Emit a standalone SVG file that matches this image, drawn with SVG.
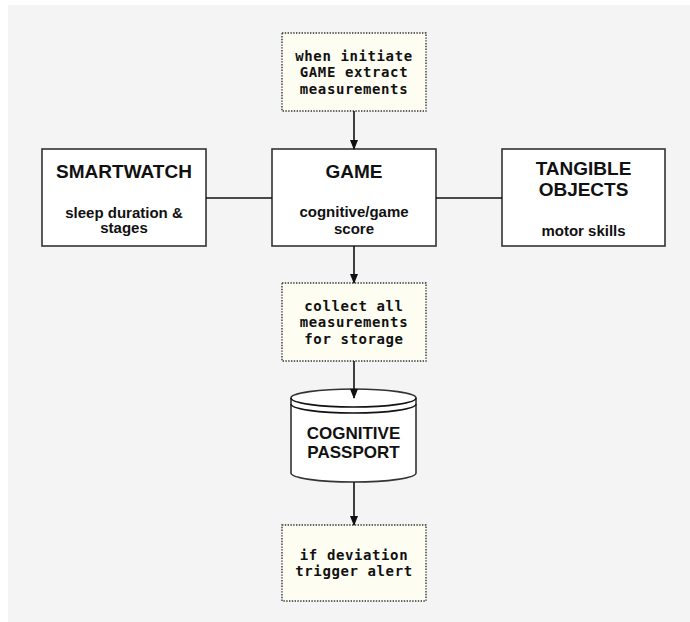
<svg xmlns="http://www.w3.org/2000/svg" width="690" height="622" viewBox="0 0 690 622">
<defs>
<marker id="ah" markerWidth="10" markerHeight="8" refX="9" refY="4" orient="auto" markerUnits="userSpaceOnUse">
<path d="M0,0 L10,4 L0,8 Z" fill="#111"/>
</marker>
<style>
.box{fill:#fff;stroke:#333;stroke-width:1.6}
.note{fill:#fefdf2;stroke:#333;stroke-width:1.4;stroke-dasharray:1.4 1.4}
.t{font-family:"Liberation Sans",Arial,sans-serif;font-weight:bold;font-size:19px;fill:#111;text-anchor:middle}
.cy{font-family:"Liberation Sans",Arial,sans-serif;font-weight:bold;font-size:17px;fill:#111;text-anchor:middle}
.s{font-family:"Liberation Sans",Arial,sans-serif;font-weight:bold;font-size:15px;fill:#111;text-anchor:middle}
.m{font-family:"DejaVu Sans Mono","Liberation Mono",monospace;font-weight:bold;font-size:14px;letter-spacing:0.6px;fill:#111;text-anchor:middle}
.c{stroke:#111;stroke-width:1.6;fill:none}
</style>
</defs>
<rect x="0" y="0" width="690" height="622" fill="#fff"/>
<rect x="8" y="5" width="682" height="617" fill="#f4f4f4"/>
<g id="note-initiate">
<rect class="note" x="282" y="33" width="144" height="78"/>
<text class="m" x="354" y="60.5">when initiate</text>
<text class="m" x="354" y="77">GAME extract</text>
<text class="m" x="354" y="93.5">measurements</text>
</g>
<g id="smartwatch">
<rect class="box" x="42" y="149" width="164" height="97"/>
<text class="t" x="124" y="177.5">SMARTWATCH</text>
<text class="s" x="124" y="217.5">sleep duration &amp;</text>
<text class="s" x="124" y="233">stages</text>
</g>
<g id="game">
<rect class="box" x="272" y="149" width="164" height="97"/>
<text class="t" x="354" y="177.5">GAME</text>
<text class="s" x="354" y="216.5">cognitive/game</text>
<text class="s" x="354" y="233.5">score</text>
</g>
<g id="tangible">
<rect class="box" x="502" y="149" width="163" height="97"/>
<text class="t" x="583.5" y="174.5">TANGIBLE</text>
<text class="t" x="583.5" y="195.5">OBJECTS</text>
<text class="s" x="583.5" y="235.5">motor skills</text>
</g>
<g id="note-collect">
<rect class="note" x="282" y="283" width="144" height="78"/>
<text class="m" x="354" y="310.5">collect all</text>
<text class="m" x="354" y="327">measurements</text>
<text class="m" x="354" y="343.5">for storage</text>
</g>
<g id="passport">
<path class="box" d="M291,398 A62.5,9 0 0 1 416,398 L416,473 A62.5,9 0 0 1 291,473 Z"/>
<path class="c" stroke="#333" d="M291,398 A62.5,9 0 0 0 416,398"/>
<path class="c" stroke="#333" d="M291,404 A62.5,9 0 0 0 416,404"/>
<text class="cy" x="353.5" y="439">COGNITIVE</text>
<text class="cy" x="353.5" y="458">PASSPORT</text>
</g>
<g id="note-alert">
<rect class="note" x="282" y="525" width="144" height="76"/>
<text class="m" x="354" y="559.5">if deviation</text>
<text class="m" x="354" y="576">trigger alert</text>
</g>
<g id="connectors">
<line class="c" x1="354" y1="111" x2="354" y2="149" marker-end="url(#ah)"/>
<line class="c" x1="206" y1="198" x2="272" y2="198"/>
<line class="c" x1="436" y1="198" x2="502" y2="198"/>
<line class="c" x1="354" y1="246" x2="354" y2="283" marker-end="url(#ah)"/>
<line class="c" x1="354" y1="361" x2="354" y2="398" marker-end="url(#ah)"/>
<line class="c" x1="354" y1="482" x2="354" y2="525" marker-end="url(#ah)"/>
</g>
</svg>
